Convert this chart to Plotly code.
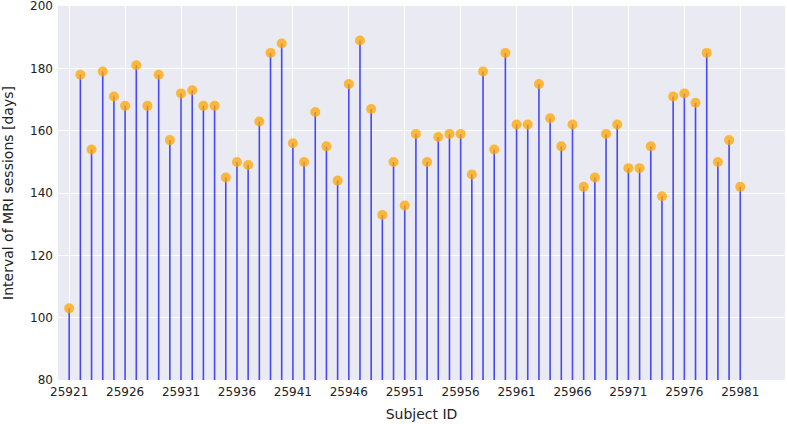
import plotly.graph_objects as go

subject_ids = list(range(25921, 25982))
intervals = [
    103, 178, 154, 179, 171, 168, 181, 168, 178, 157,
    172, 173, 168, 168, 145, 150, 149, 163, 185, 188,
    156, 150, 166, 155, 144, 175, 189, 167, 133, 150,
    136, 159, 150, 158, 159, 159, 146, 179, 154, 185,
    162, 162, 175, 164, 155, 162, 142, 145, 159, 162,
    148, 148, 155, 139, 171, 172, 169, 185, 150, 157,
    142,
]
baseline = 0

stem_x, stem_y = [], []
for sid, v in zip(subject_ids, intervals):
    stem_x += [sid, sid, None]
    stem_y += [baseline, v, None]

fig = go.Figure()
fig.add_trace(go.Scatter(
    x=stem_x, y=stem_y, mode="lines",
    line=dict(color="rgba(0,0,255,0.7)", width=1.6),
    hoverinfo="skip", showlegend=False,
))
fig.add_trace(go.Scatter(
    x=subject_ids, y=intervals, mode="markers",
    marker=dict(color="orange", size=10, opacity=0.75),
    showlegend=False,
))

fig.update_layout(
    width=787, height=424,
    margin=dict(l=58, r=2, t=6, b=44, autoexpand=False),
    paper_bgcolor="white",
    plot_bgcolor="#EAEAF2",
    font=dict(family="DejaVu Sans", size=12, color="#222222"),
)
fig.update_xaxes(
    range=[25920, 25985], tick0=25921, dtick=5, tickformat="d",
    showgrid=True, gridcolor="white", gridwidth=1, zeroline=False,
    ticks="", tickfont=dict(size=12), automargin=False, ticklabelstandoff=3,
    ticklabeloverflow="allow",
    title=dict(text="Subject ID", font=dict(size=14), standoff=11),
)
fig.update_yaxes(
    range=[80, 200.05], dtick=20, tick0=80,
    showgrid=True, gridcolor="white", gridwidth=1, zeroline=False,
    ticks="", tickfont=dict(size=12), automargin=False, ticklabelstandoff=4,
    ticklabeloverflow="allow",
    title=dict(text="Interval of MRI sessions [days]", font=dict(size=14), standoff=13),
)

fig.write_html(
    "out.html",
    config={"displayModeBar": False},
    post_script="document.body.style.margin='0';document.body.style.overflow='hidden';",
)
